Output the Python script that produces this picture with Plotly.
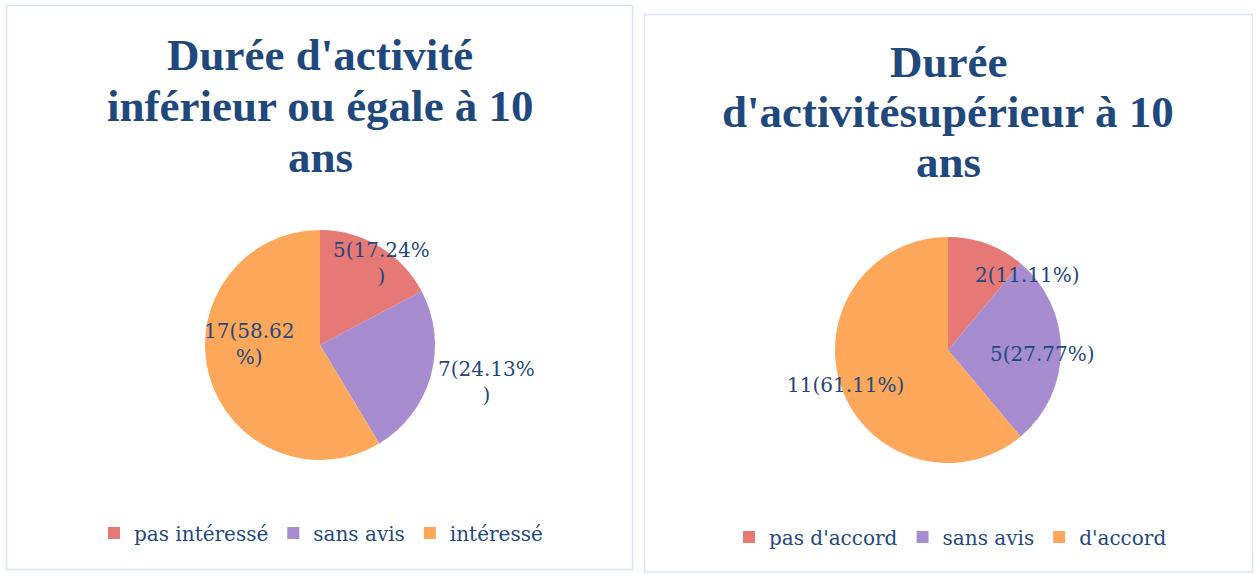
import math
import plotly.graph_objects as go

W, H = 1259, 574

# --- data -------------------------------------------------------------
left_title = ["Durée d'activité", "inférieur ou égale à 10", "ans"]
left_labels = ["pas intéressé", "sans avis", "intéressé"]
left_values = [5, 7, 17]
left_text = ["5(17.24%<br>)", "7(24.13%<br>)", "17(58.62<br>%)"]

right_title = ["Durée", "d'activitésupérieur à 10", "ans"]
# zero-width space keeps this legend entry separate from the left chart's one
right_labels = ["pas d'accord", "sans avis\u200b", "d'accord"]
right_values = [2, 5, 11]
right_text = ["2(11.11%)", "5(27.77%)", "11(61.11%)"]

colors = ["#E67876", "#A88CD0", "#FDA75A"]
TEXT = "#1F497D"
SERIF = "Liberation Serif"
LABEL_FONT = "DejaVu Serif"

# --- layout geometry (pixels) ----------------------------------------
left_pie = dict(cx=320, cy=345, r=115)
right_pie = dict(cx=948, cy=350, r=113)
# label placement: angle clockwise from 12 o'clock, distance as fraction of radius
left_lab_pos = [(36.6, 0.89), (102.6, 1.48), (271.2, 0.61)]
right_lab_pos = [(46.8, 0.97), (92.4, 0.84), (251.2, 0.96)]
# title: centre x, first line y, line pitch
left_title_pos = (320, 55, 51)
right_title_pos = (948, 62, 50)


def px(x):
    return x / W


def py(y):
    return 1 - y / H


def domain(p):
    return dict(x=[px(p["cx"] - p["r"]), px(p["cx"] + p["r"])],
                y=[py(p["cy"] + p["r"]), py(p["cy"] - p["r"])])


fig = go.Figure()

for labels, values, pie, leg in [(left_labels, left_values, left_pie, "legend"),
                                 (right_labels, right_values, right_pie, "legend2")]:
    fig.add_trace(go.Pie(
        labels=labels, values=values, sort=False, direction="clockwise",
        rotation=0, textinfo="none", hoverinfo="label+value+percent",
        marker=dict(colors=colors, line=dict(width=0)),
        domain=domain(pie), legend=leg, showlegend=True,
    ))

annotations = []
for texts, pie, pos in [(left_text, left_pie, left_lab_pos),
                        (right_text, right_pie, right_lab_pos)]:
    for t, (ang, f) in zip(texts, pos):
        a = math.radians(ang)
        x = pie["cx"] + f * pie["r"] * math.sin(a)
        y = pie["cy"] - f * pie["r"] * math.cos(a)
        annotations.append(dict(
            x=px(x), y=py(y), xref="paper", yref="paper", text=t,
            showarrow=False, xanchor="center", yanchor="middle",
            font=dict(family=LABEL_FONT, size=20, color=TEXT)))

for lines, (cx, y0, pitch) in [(left_title, left_title_pos),
                               (right_title, right_title_pos)]:
    for i, line in enumerate(lines):
        annotations.append(dict(
            x=px(cx), y=py(y0 + i * pitch), xref="paper", yref="paper",
            text="<b>" + line + "</b>", showarrow=False,
            xanchor="center", yanchor="middle",
            font=dict(family=SERIF, size=45, color=TEXT)))

shapes = [
    dict(type="rect", xref="paper", yref="paper",
         x0=px(6.5), x1=px(632.5), y0=py(569.5), y1=py(5.5),
         line=dict(color="#D9E4F2", width=1.5)),
    dict(type="rect", xref="paper", yref="paper",
         x0=px(644.5), x1=px(1252.5), y0=py(572), y1=py(14.5),
         line=dict(color="#D9E4F2", width=1.5)),
]

legend_style = dict(orientation="h", xanchor="left", yanchor="middle",
                    font=dict(family=LABEL_FONT, size=20, color=TEXT),
                    bgcolor="rgba(0,0,0,0)", itemwidth=30,
                    itemclick=False, itemdoubleclick=False)

fig.update_layout(
    width=W, height=H,
    margin=dict(l=0, r=0, t=0, b=0),
    paper_bgcolor="white", plot_bgcolor="white",
    annotations=annotations, shapes=shapes,
    legend=dict(x=px(94), y=py(533), **legend_style),
    legend2=dict(x=px(729), y=py(537), **legend_style),
)

fig.write_html("out.html")
